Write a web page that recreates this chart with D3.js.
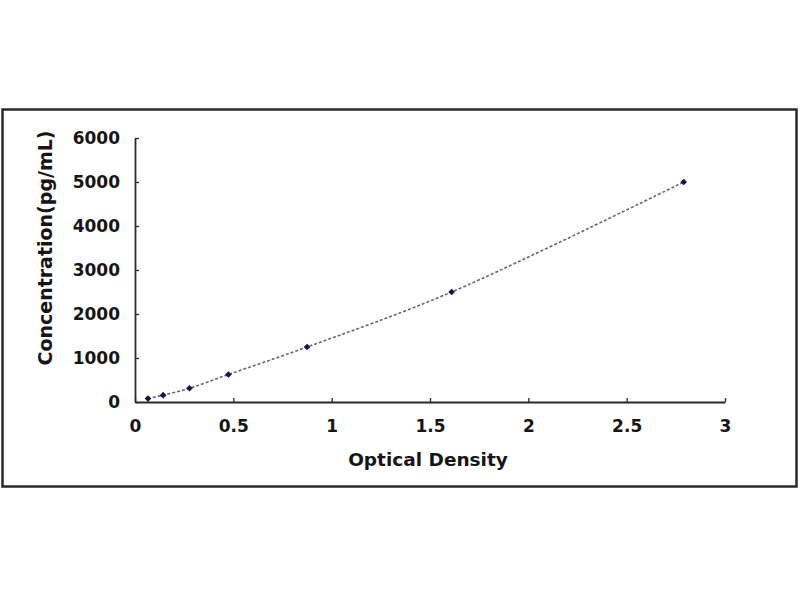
<!DOCTYPE html>
<html>
<head>
<meta charset="utf-8">
<script src="https://cdn.jsdelivr.net/npm/d3@7"></script>
<style>
  html, body { margin: 0; padding: 0; background: #fff; }
  svg { display: block; }
  text { font-family: "DejaVu Sans", sans-serif; font-weight: bold; fill: #151515; }
</style>
</head>
<body>
<svg id="chart" width="800" height="600"></svg>
<script>
// Data
const opticalDensity = [0.066, 0.143, 0.277, 0.475, 0.875, 1.61, 2.79];
const concentration  = [78, 156, 312, 625, 1250, 2500, 5000];
const xTicks = [0, 0.5, 1, 1.5, 2, 2.5, 3];
const yTicks = [0, 1000, 2000, 3000, 4000, 5000, 6000];
const xTitle = "Optical Density";
const yTitle = "Concentration(pg/mL)";

(function () {
const points = opticalDensity.map((d, i) => ({ x: d, y: concentration[i] }));

const svg = d3.select("#chart");
const W = 800, H = 600;
svg.append("rect").attr("x", 0).attr("y", 0).attr("width", W).attr("height", H).attr("fill", "#fff");

// outer chart frame
svg.append("rect")
  .attr("x", 2.5).attr("y", 109.5).attr("width", 794).attr("height", 377)
  .attr("fill", "#fff").attr("stroke", "#2a2a2a").attr("stroke-width", 2.5);

const pLeft = 135, pRight = 725, pTop = 138, pBottom = 402;
const x = d3.scaleLinear().domain([0, 3]).range([pLeft, pRight]);
const y = d3.scaleLinear().domain([0, 6000]).range([pBottom, pTop]);

// Y axis
const yAxis = d3.axisLeft(y).tickValues(yTicks).tickSizeInner(-4).tickSizeOuter(0).tickPadding(15).tickFormat(d3.format("d"));
const gy = svg.append("g").attr("transform", `translate(${pLeft},0)`).call(yAxis);
gy.select(".domain").attr("stroke", "#2a2a2a").attr("stroke-width", 1.8);
gy.selectAll(".tick line").attr("stroke", "#2a2a2a").attr("stroke-width", 1.3);
gy.selectAll(".tick text").style("font-size", "17px").attr("fill", "#151515");

// X axis
const xAxis = d3.axisBottom(x).tickValues(xTicks).tickSizeInner(-4).tickSizeOuter(0).tickPadding(18).tickFormat(d => d3.format("")(d));
const gx = svg.append("g").attr("transform", `translate(0,${pBottom})`).call(xAxis);
gx.select(".domain").attr("stroke", "#2a2a2a").attr("stroke-width", 1.8);
gx.selectAll(".tick line").attr("stroke", "#2a2a2a").attr("stroke-width", 1.3);
gx.selectAll(".tick text").style("font-size", "17px").attr("fill", "#151515");

// Titles
svg.append("text")
  .attr("x", 428).attr("y", 466)
  .attr("text-anchor", "middle")
  .style("font-size", "18.5px")
  .text(xTitle);

svg.append("text")
  .attr("transform", "translate(52,248) rotate(-90)")
  .attr("text-anchor", "middle")
  .style("font-size", "19px")
  .text(yTitle);

// Smoothed curve
const line = d3.line().x(d => x(d.x)).y(d => y(d.y)).curve(d3.curveCatmullRom.alpha(0.5));
svg.append("path")
  .datum(points)
  .attr("d", line)
  .attr("fill", "none")
  .attr("stroke", "#66667f")
  .attr("stroke-width", 1.6)
  .attr("stroke-dasharray", "3,2");

// Markers (diamonds)
svg.selectAll(".pt")
  .data(points)
  .enter().append("path")
  .attr("class", "pt")
  .attr("transform", d => `translate(${x(d.x)},${y(d.y)}) rotate(45)`)
  .attr("d", d3.symbol().type(d3.symbolSquare).size(22))
  .attr("fill", "#15154a");
})();
</script>
</body>
</html>
